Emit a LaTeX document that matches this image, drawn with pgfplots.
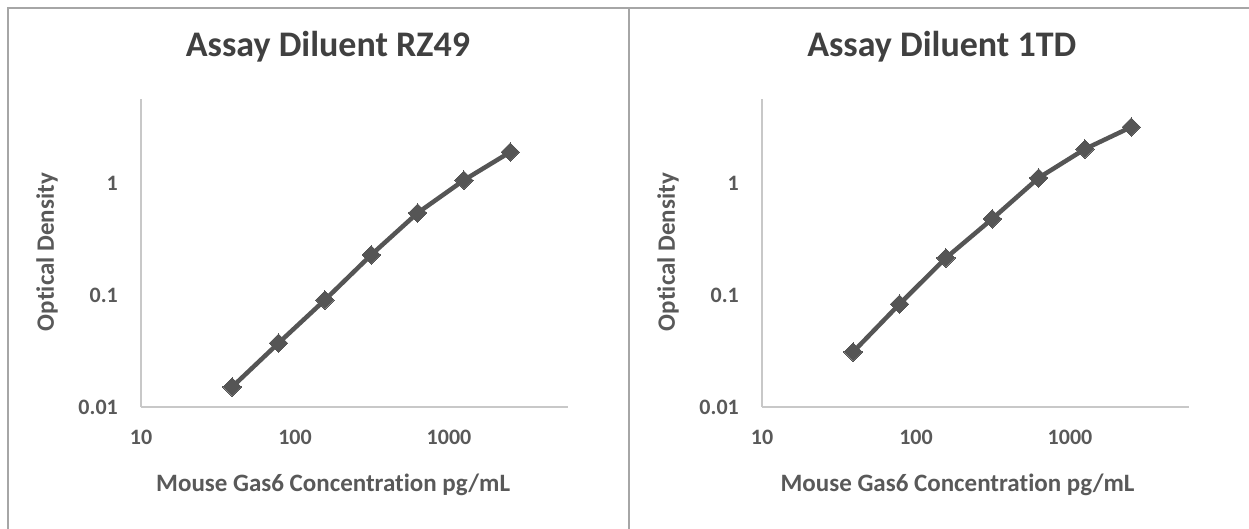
\documentclass[border=0pt]{standalone}
\usepackage{fontspec}
\setmainfont{Carlito}[Ligatures=NoCommon]
\usepackage{pgfplots}
\pgfplotsset{compat=1.18}
\definecolor{txt}{HTML}{595959}
\definecolor{ttl}{HTML}{404040}
\definecolor{ln}{HTML}{555555}
\definecolor{axl}{HTML}{C8C8C8}
\definecolor{brd}{HTML}{A6A6A6}
\begin{document}
\begin{tikzpicture}
\useasboundingbox (0pt,0pt) rectangle (1249pt,-529pt);
\draw[brd, line width=1.5pt] (8pt,-529pt) -- (8pt,-8pt) -- (1249pt,-8pt);
\draw[brd, line width=1.5pt] (629pt,-8pt) -- (629pt,-529pt);
\begin{axis}[
    at={(141pt,-407pt)}, anchor=south west,
    scale only axis, width=427pt, height=308pt,
    xmode=log, ymode=log,
    xmin=10, xmax=5927, ymin=0.01, ymax=5.62,
    axis x line*=bottom, axis y line*=left,
    axis line style={axl, line width=1.5pt},
    xtick={10,100,1000}, xticklabels={10,100,1000},
    ytick={0.01,0.1,1}, yticklabels={0.01,0.1,1},
    minor xtick={}, minor ytick={},
    major tick length=0pt, minor tick length=0pt,
    xticklabel style={font=\fontsize{22}{22}\selectfont\bfseries, text=txt, anchor=center, inner sep=0pt, yshift=-30pt},
    yticklabel style={font=\fontsize{22}{22}\selectfont\bfseries, text=txt, anchor=east, inner sep=0pt, xshift=-23pt},
    title={Assay Diluent RZ49},
    title style={at={(axis description cs:0.438,1.120)}, anchor=base, font=\fontsize{36}{36}\selectfont\bfseries, text=ttl},
    xlabel={Mouse Gas6 Concentration pg/mL},
    xlabel style={at={(axis description cs:0.45,-0.273)}, anchor=base, font=\fontsize{25}{25}\selectfont\bfseries, text=txt},
    ylabel={Optical Density},
    ylabel style={at={(axis description cs:-0.22,0.503)}, anchor=center, font=\fontsize{25}{25}\selectfont\bfseries, text=txt},
    clip=false]
\addplot[color=ln, line width=4.5pt, mark=square*, mark size=6.5pt, mark options={rotate=45, fill=ln, draw=ln, line width=0pt}] coordinates {(39.0625,0.0151) (78.125,0.0372) (156.25,0.0902) (312.5,0.228) (625,0.540) (1250,1.06) (2500,1.89)};
\end{axis}
\begin{axis}[
    at={(762pt,-407pt)}, anchor=south west,
    scale only axis, width=427pt, height=308pt,
    xmode=log, ymode=log,
    xmin=10, xmax=5927, ymin=0.01, ymax=5.62,
    axis x line*=bottom, axis y line*=left,
    axis line style={axl, line width=1.5pt},
    xtick={10,100,1000}, xticklabels={10,100,1000},
    ytick={0.01,0.1,1}, yticklabels={0.01,0.1,1},
    minor xtick={}, minor ytick={},
    major tick length=0pt, minor tick length=0pt,
    xticklabel style={font=\fontsize{22}{22}\selectfont\bfseries, text=txt, anchor=center, inner sep=0pt, yshift=-30pt},
    yticklabel style={font=\fontsize{22}{22}\selectfont\bfseries, text=txt, anchor=east, inner sep=0pt, xshift=-23pt},
    title={Assay Diluent 1TD},
    title style={at={(axis description cs:0.421,1.120)}, anchor=base, font=\fontsize{36}{36}\selectfont\bfseries, text=ttl},
    xlabel={Mouse Gas6 Concentration pg/mL},
    xlabel style={at={(axis description cs:0.458,-0.273)}, anchor=base, font=\fontsize{25}{25}\selectfont\bfseries, text=txt},
    ylabel={Optical Density},
    ylabel style={at={(axis description cs:-0.22,0.503)}, anchor=center, font=\fontsize{25}{25}\selectfont\bfseries, text=txt},
    clip=false]
\addplot[color=ln, line width=4.5pt, mark=square*, mark size=6.5pt, mark options={rotate=45, fill=ln, draw=ln, line width=0pt}] coordinates {(39.0625,0.031) (78.125,0.083) (156.25,0.214) (312.5,0.478) (625,1.11) (1250,2.01) (2500,3.16)};
\end{axis}
\end{tikzpicture}
\end{document}
